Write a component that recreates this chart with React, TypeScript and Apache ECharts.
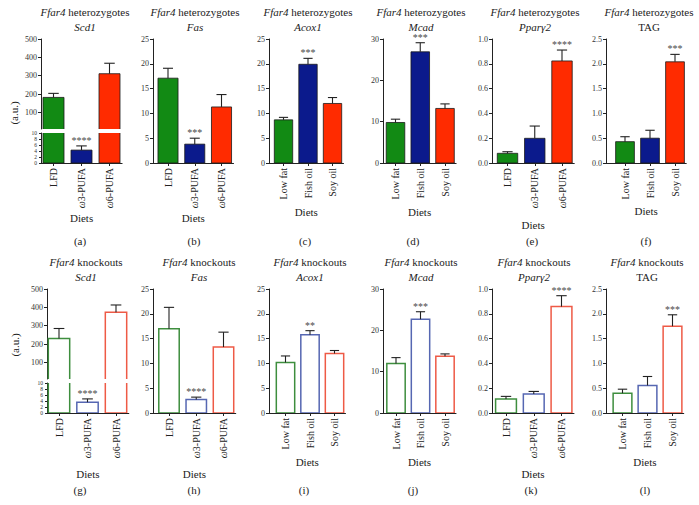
import React, { useEffect, useRef } from 'react';
import * as echarts from 'echarts';

// ---------- data ----------
const DIETS_PUFA = ['LFD', 'ω3-PUFA', 'ω6-PUFA'];
const DIETS_OIL = ['Low fat', 'Fish oil', 'Soy oil'];
const GENOTYPES = ['heterozygotes', 'knockouts'];
const GENES = ['Scd1', 'Fas', 'Acox1', 'Mcad', 'Pparγ2', 'TAG'];
const GENE_ITALIC = [true, true, true, true, true, false];
const PANEL_LETTERS = [
  ['(a)', '(b)', '(c)', '(d)', '(e)', '(f)'],
  ['(g)', '(h)', '(i)', '(j)', '(k)', '(l)'],
];

// Ffar4 heterozygotes (mean, SEM)
const HET_SCD1 = [182, 4.3, 311];
const HET_SCD1_SEM = [22, 1.4, 57];
const HET_FAS = [17.1, 3.8, 11.3];
const HET_FAS_SEM = [2.0, 1.2, 2.5];
const HET_ACOX1 = [8.7, 19.9, 12.0];
const HET_ACOX1_SEM = [0.5, 1.2, 1.2];
const HET_MCAD = [9.8, 26.9, 13.2];
const HET_MCAD_SEM = [0.8, 2.2, 1.1];
const HET_PPARG2 = [0.078, 0.199, 0.823];
const HET_PPARG2_SEM = [0.013, 0.099, 0.088];
const HET_TAG = [0.43, 0.5, 2.04];
const HET_TAG_SEM = [0.1, 0.16, 0.15];

// Ffar4 knockouts (mean, SEM)
const KO_SCD1 = [231, 3.6, 373];
const KO_SCD1_SEM = [54, 1.1, 40];
const KO_FAS = [17.0, 2.7, 13.3];
const KO_FAS_SEM = [4.3, 0.5, 3.0];
const KO_ACOX1 = [10.2, 15.8, 12.0];
const KO_ACOX1_SEM = [1.3, 0.8, 0.6];
const KO_MCAD = [12.0, 22.7, 13.7];
const KO_MCAD_SEM = [1.4, 1.8, 0.6];
const KO_PPARG2 = [0.113, 0.153, 0.858];
const KO_PPARG2_SEM = [0.021, 0.021, 0.088];
const KO_TAG = [0.4, 0.556, 1.75];
const KO_TAG_SEM = [0.08, 0.18, 0.23];

const HET_STARS = [['', '****', ''], ['', '***', ''], ['', '***', ''], ['', '***', ''], ['', '', '****'], ['', '', '***']];
const KO_STARS = [['', '****', ''], ['', '****', ''], ['', '**', ''], ['', '***', ''], ['', '', '****'], ['', '', '***']];

// y scales per gene column
const Y_MAX = [500, 25, 25, 30, 1.0, 2.5];
const Y_STEP = [100, 5, 5, 10, 0.2, 0.5];
const Y_DECIMALS = [0, 0, 0, 0, 1, 1];
const UPPER_TICKS = [100, 200, 300, 400, 500];
const BREAK_AT = 10;
const LOWER_STEP = 2;

const MEANS = [
  [HET_SCD1, HET_FAS, HET_ACOX1, HET_MCAD, HET_PPARG2, HET_TAG],
  [KO_SCD1, KO_FAS, KO_ACOX1, KO_MCAD, KO_PPARG2, KO_TAG],
];
const SEMS = [
  [HET_SCD1_SEM, HET_FAS_SEM, HET_ACOX1_SEM, HET_MCAD_SEM, HET_PPARG2_SEM, HET_TAG_SEM],
  [KO_SCD1_SEM, KO_FAS_SEM, KO_ACOX1_SEM, KO_MCAD_SEM, KO_PPARG2_SEM, KO_TAG_SEM],
];
const STARS = [HET_STARS, KO_STARS];
const DIET_SETS = [DIETS_PUFA, DIETS_PUFA, DIETS_OIL, DIETS_OIL, DIETS_PUFA, DIETS_OIL];

// ---------- layout & style ----------
const FONT = 'Liberation Serif, DejaVu Serif, serif';
const FILL = ['#128a14', '#0b1a8c', '#ff2b00'];
const OUTLINE = ['#3e8e3e', '#5667b2', '#ee5a46'];
const AXIS_COLOR = '#222';
const TEXT_COLOR = '#222';
const BAR_RATIO = 0.75;
const ROW_AXIS_TOP = [39, 289];
const PLOT_H = 124;
const UPPER_H = 90;
const BREAK_GAP = 4;
const LOWER_H = 30;
const X_MAX = 2.45;
const STAR_LIFT = 5.5;
const STAR_SIZE = 10;
const AXIS_X = [
  [41, 153, 269, 383, 492, 606],
  [47, 153, 269, 383, 492, 606],
];
const FIRST_CENTER = [
  [53.5, 168, 283.5, 395.5, 507.5, 625],
  [59, 169, 285.5, 396, 506, 622.5],
];
const SPACING = [
  [28, 26.75, 24.5, 24.75, 27.25, 25],
  [28.5, 27.25, 24.5, 24.5, 27.75, 25],
];
const DIETS_OFFSET = [
  [50, 50, 49, 49, 62, 48],
  [61, 61, 49, 49, 61, 49],
];
const TITLE_X = [
  [85, 195, 308, 421, 535, 649],
  [86, 199, 310, 421, 534, 647],
];
const TITLE_Y = [
  [11.5, 26.5],
  [261.5, 276.5],
];
const LETTER_X = [
  [80, 194, 305, 413, 532, 646],
  [80, 194, 304, 413, 531, 645],
];
const LETTER_Y = [241, 490];
const AU_POS = [
  [14, 113],
  [15, 345],
];

const baseText = { fontFamily: FONT, fontWeight: 'normal', color: TEXT_COLOR };

function catLabel(name: string) {
  if (name.startsWith('ω')) return '{i|ω}{n|' + name.slice(1) + '}';
  return '{n|' + name + '}';
}

function plainText(x: number, y: number, text: string, italic = false, rotation = 0) {
  return {
    type: 'text',
    x,
    y,
    rotation,
    style: {
      text,
      align: 'center',
      verticalAlign: 'middle',
      fill: TEXT_COLOR,
      fontFamily: FONT,
      fontSize: 11,
      fontWeight: 'normal',
      fontStyle: italic ? 'italic' : 'normal',
    },
  };
}

function buildOption() {
  const grid: any[] = [];
  const xAxis: any[] = [];
  const yAxis: any[] = [];
  const series: any[] = [];
  const graphic: any[] = [];

  for (let row = 0; row < 2; row++) {
    for (let col = 0; col < 6; col++) {
      const means = MEANS[row][col];
      const sems = SEMS[row][col];
      const stars = STARS[row][col];
      const cats = DIET_SETS[col];
      const ax = AXIS_X[row][col];
      const c0 = FIRST_CENTER[row][col];
      const sp = SPACING[row][col];
      const xMin = -(c0 - ax) / sp;
      const width = (X_MAX - xMin) * sp;
      const top = ROW_AXIS_TOP[row];
      const filled = row === 0;

      const segs: any[] =
        col === 0
          ? [
              { top, height: UPPER_H, min: BREAK_AT, max: Y_MAX[0], ticks: UPPER_TICKS, bottom: false, fs: 8, tl: 3, pick: (v: number) => v >= BREAK_AT },
              { top: top + UPPER_H + BREAK_GAP, height: LOWER_H, min: 0, max: BREAK_AT, interval: LOWER_STEP, bottom: true, fs: 5.5, tl: 2, pick: (v: number) => v < BREAK_AT },
            ]
          : [{ top, height: PLOT_H, min: 0, max: Y_MAX[col], interval: Y_STEP[col], bottom: true, fs: 8, tl: 3, pick: () => true }];

      segs.forEach((seg) => {
        const gi = grid.length;
        grid.push({ left: ax, top: seg.top, width, height: seg.height, containLabel: false, outerBoundsMode: 'none' });
        xAxis.push({
          gridIndex: gi,
          type: 'value',
          min: xMin,
          max: X_MAX,
          show: seg.bottom,
          splitLine: { show: false },
          axisLine: { show: true, onZero: false, lineStyle: { color: AXIS_COLOR, width: 1 } },
          axisTick: { show: true, length: 3, customValues: [0, 1, 2], lineStyle: { color: AXIS_COLOR } },
          axisLabel: {
            customValues: [0, 1, 2],
            rotate: 90,
            margin: 5,
            formatter: (v: number) => catLabel(cats[Math.round(v)] || ''),
            rich: {
              i: { ...baseText, fontStyle: 'italic', fontSize: 10 },
              n: { ...baseText, fontSize: 10 },
            },
          },
          name: 'Diets',
          nameLocation: 'middle',
          nameGap: DIETS_OFFSET[row][col],
          nameTextStyle: { ...baseText, fontSize: 11, verticalAlign: 'middle' },
        });
        const yAx: any = {
          gridIndex: gi,
          type: 'value',
          min: seg.min,
          max: seg.max,
          splitLine: { show: false },
          axisLine: { show: true, onZero: false, lineStyle: { color: AXIS_COLOR, width: 1 } },
          axisTick: { show: true, length: seg.tl, lineStyle: { color: AXIS_COLOR } },
          axisLabel: {
            ...baseText,
            color: '#333',
            fontSize: seg.fs,
            margin: 4,
            formatter: (v: number) => (Y_DECIMALS[col] ? Number(v).toFixed(1) : String(Math.round(v))),
          },
        };
        if (seg.interval !== undefined) yAx.interval = seg.interval;
        if (seg.ticks) {
          yAx.axisTick.customValues = seg.ticks;
          yAx.axisLabel.customValues = seg.ticks;
        }
        yAxis.push(yAx);

        series.push({
          type: 'custom',
          xAxisIndex: gi,
          yAxisIndex: gi,
          clip: true,
          encode: { x: 0, y: 1 },
          data: means.map((m, i) => [i, m]),
          renderItem: (params: any, api: any) => {
            const idx = api.value(0);
            const val = api.value(1);
            const p = api.coord([idx, val]);
            const b = api.coord([idx, 0]);
            const w = api.size([1, 0])[0] * BAR_RATIO;
            return {
              type: 'rect',
              shape: { x: p[0] - w / 2, y: Math.min(p[1], b[1]), width: w, height: Math.abs(b[1] - p[1]) },
              style: filled
                ? { fill: FILL[idx], stroke: '#1a1a1a', lineWidth: 0.8 }
                : { fill: '#ffffff', stroke: OUTLINE[idx], lineWidth: 1.5 },
            };
          },
        });

        const errData = means.map((m, i) => [i, m, sems[i]]).filter((d) => seg.pick(d[1]));
        if (errData.length) {
          series.push({
            type: 'custom',
            xAxisIndex: gi,
            yAxisIndex: gi,
            clip: false,
            encode: { x: 0, y: 1 },
            data: errData,
            renderItem: (params: any, api: any) => {
              const idx = api.value(0);
              const m = api.value(1);
              const s = api.value(2);
              const t = api.coord([idx, m + s]);
              const b = api.coord([idx, m]);
              const w = api.size([1, 0])[0] * BAR_RATIO;
              const cap = w * 0.5;
              const children: any[] = [
                { type: 'line', shape: { x1: t[0], y1: b[1], x2: t[0], y2: t[1] }, style: { stroke: '#222', lineWidth: 1.1 } },
                { type: 'line', shape: { x1: t[0] - cap / 2, y1: t[1], x2: t[0] + cap / 2, y2: t[1] }, style: { stroke: '#222', lineWidth: 1.1 } },
              ];
              const st = stars[idx];
              if (st) {
                children.push({
                  type: 'text',
                  x: t[0],
                  y: t[1] - STAR_LIFT,
                  style: {
                    text: st,
                    fill: '#4a4a4a',
                    fontFamily: FONT,
                    fontWeight: 'normal',
                    fontSize: STAR_SIZE,
                    lineHeight: 6,
                    align: 'center',
                    verticalAlign: 'middle',
                  },
                });
              }
              return { type: 'group', children };
            },
          });
        }
      });

      // titles
      graphic.push({
        type: 'text',
        x: TITLE_X[row][col],
        y: TITLE_Y[row][0],
        style: {
          text: '{i|Ffar4}{n| ' + GENOTYPES[row] + '}',
          align: 'center',
          verticalAlign: 'middle',
          fill: TEXT_COLOR,
          fontFamily: FONT,
          fontWeight: 'normal',
          fontSize: 11,
          rich: {
            i: { fontStyle: 'italic', fontFamily: FONT, fontWeight: 'normal', fontSize: 11, fill: TEXT_COLOR },
            n: { fontStyle: 'normal', fontFamily: FONT, fontWeight: 'normal', fontSize: 11, fill: TEXT_COLOR },
          },
        },
      });
      graphic.push(plainText(TITLE_X[row][col], TITLE_Y[row][1], GENES[col], GENE_ITALIC[col]));
      graphic.push(plainText(LETTER_X[row][col], LETTER_Y[row], PANEL_LETTERS[row][col]));
    }
    graphic.push(plainText(AU_POS[row][0], AU_POS[row][1], '(a.u.)', false, Math.PI / 2));
  }

  return {
    animation: false,
    backgroundColor: '#ffffff',
    textStyle: { fontFamily: FONT, fontWeight: 'normal' },
    grid,
    xAxis,
    yAxis,
    series,
    graphic,
  };
}

export default function App() {
  const ref = useRef<HTMLDivElement>(null);
  useEffect(() => {
    if (!ref.current) return;
    const chart = echarts.init(ref.current, null, { renderer: 'svg' });
    chart.setOption(buildOption() as any);
    return () => chart.dispose();
  }, []);
  return (
    <div
      ref={ref}
      style={{ position: 'fixed', left: 0, top: 0, width: 699, height: 505, background: '#fff' }}
    />
  );
}
